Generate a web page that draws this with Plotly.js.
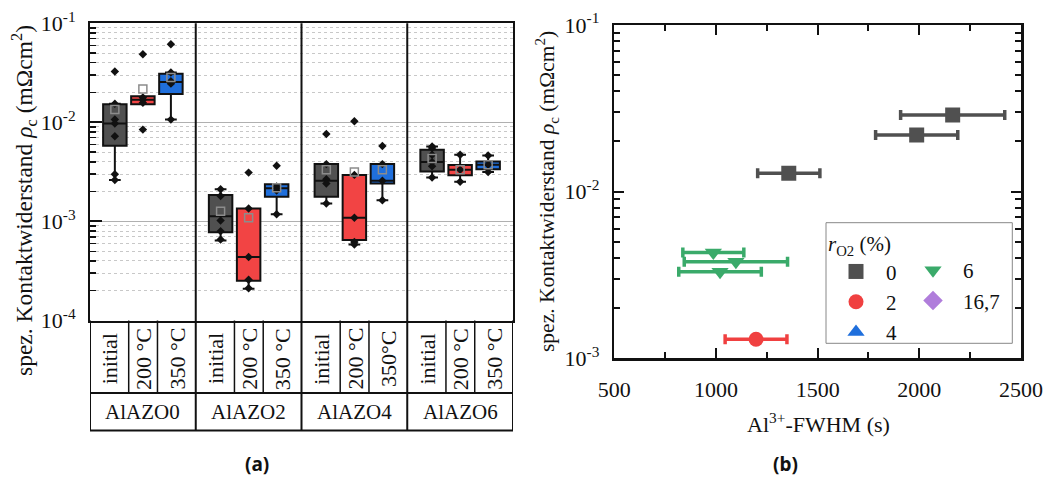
<!DOCTYPE html>
<html>
<head>
<meta charset="utf-8">
<script src="https://cdn.plot.ly/plotly-3.0.1.min.js"></script>
<style>html,body{margin:0;padding:0;background:#fff;}#chart{width:1052px;height:479px;}</style>
</head>
<body>
<div id="chart"></div>
<script>
// ---------- Panel (a) data: box statistics per condition, one entry per group ----------
const groups = ['AlAZO0', 'AlAZO2', 'AlAZO4', 'AlAZO6'];
const conditionNames = ['initial', '200 °C', '350 °C'];
const cellLabels = [
  ['initial', '200 °C', '350 °C'],
  ['initial', '200 °C', '350 °C'],
  ['initial', '200 °C', '350°C'],
  ['initial', '200 °C', '350 °C']
];

const initialQ1 = [0.00581, 0.000779, 0.00178, 0.00319];
const initialMed = [0.00972, 0.00113, 0.00257, 0.00397];
const initialQ3 = [0.0152, 0.00185, 0.00379, 0.00530];
const initialLo = [0.00262, 0.000641, 0.00152, 0.00277];
const initialHi = [0.0154, 0.00211, 0.00379, 0.00571];
const initialMean = [0.0135, 0.00127, 0.00332, 0.00433];
const initialPts = [
  [0.0326, 0.0154, 0.01067, 0.00972, 0.00723, 0.0030, 0.00262],
  [0.00211, 0.00181, 0.00102, 0.000798, 0.000656],
  [0.00764, 0.00379, 0.00267, 0.00241, 0.00152],
  [0.00571, 0.0055, 0.0047, 0.00397, 0.0036, 0.00277]
];

const c200Q1 = [0.0152, 0.000252, 0.00065, 0.00293];
const c200Med = [0.0169, 0.000437, 0.00109, 0.00332];
const c200Q3 = [0.0183, 0.00135, 0.00295, 0.00371];
const c200Lo = [0.0152, 0.000209, 0.000584, 0.00251];
const c200Hi = [0.0183, 0.00135, 0.00295, 0.00471];
const c200Mean = [0.0217, 0.00109, 0.00316, 0.00332];
const c200Pts = [
  [0.0488, 0.0178, 0.0169, 0.0158, 0.00845],
  [0.00311, 0.00135, 0.000437, 0.000258, 0.000212],
  [0.01026, 0.00295, 0.00109, 0.00062, 0.000584],
  [0.00471, 0.00332, 0.00251]
];

const c350Q1 = [0.0193, 0.00177, 0.00241, 0.00337];
const c350Med = [0.0255, 0.00216, 0.00257, 0.00373];
const c350Q3 = [0.0310, 0.00238, 0.00379, 0.00403];
const c350Lo = [0.01066, 0.00118, 0.00164, 0.00316];
const c350Hi = [0.0318, 0.00238, 0.00379, 0.00464];
const c350Mean = [0.0283, 0.00219, 0.00332, 0.00373];
const c350Pts = [
  [0.0616, 0.0318, 0.026, 0.0246, 0.01066],
  [0.00364, 0.00225, 0.00205, 0.00118],
  [0.00577, 0.00379, 0.00257, 0.00164],
  [0.00464, 0.00373, 0.00316]
];

// ---------- Panel (b) data ----------
const fwhm0 = [1358, 1987, 2164];
const fwhm0Err = [153, 202, 256];
const rho0 = [0.0129, 0.0219, 0.0288];
const fwhm2 = [1197];
const fwhm2Err = [152];
const rho2 = [0.0013];
const fwhm6 = [987, 1098, 1020];
const fwhm6Err = [150, 254, 203];
const rho6 = [0.00431, 0.0038, 0.00331];
const legendNames = ['0', '2', '4', '6', '16,7'];

// ---------- styling ----------
const W = 1052, H = 479;
const px = v => v / W;
const py = v => 1 - v / H;
const SERIF = 'Liberation Serif, Times New Roman, serif';
const COLORS = ['#505050', '#f24444', '#1f6fdc'];
const offsets = [-0.265, 0, 0.265];
const boxW = 0.222;

const stats = [
  {q1: initialQ1, med: initialMed, q3: initialQ3, lo: initialLo, hi: initialHi, mean: initialMean, pts: initialPts},
  {q1: c200Q1, med: c200Med, q3: c200Q3, lo: c200Lo, hi: c200Hi, mean: c200Mean, pts: c200Pts},
  {q1: c350Q1, med: c350Med, q3: c350Q3, lo: c350Lo, hi: c350Hi, mean: c350Mean, pts: c350Pts}
];

const traces = [];
stats.forEach((s, ci) => {
  const xs = groups.map((g, gi) => gi + 0.5 + offsets[ci]);
  traces.push({
    type: 'box', name: conditionNames[ci], x: xs,
    q1: s.q1, median: s.med, q3: s.q3, lowerfence: s.lo, upperfence: s.hi,
    width: boxW, whiskerwidth: 0.5, fillcolor: COLORS[ci],
    line: {color: '#111', width: 2}, boxpoints: false,
    xaxis: 'x', yaxis: 'y', showlegend: false, hoverinfo: 'skip'
  });
});
stats.forEach((s, ci) => {
  const px_ = [], py_ = [];
  s.pts.forEach((arr, gi) => arr.forEach(v => { px_.push(gi + 0.5 + offsets[ci]); py_.push(v); }));
  traces.push({
    type: 'scatter', mode: 'markers', x: px_, y: py_,
    marker: {symbol: 'diamond', size: 6.5, color: '#111'},
    xaxis: 'x', yaxis: 'y', showlegend: false, hoverinfo: 'skip'
  });
  traces.push({
    type: 'scatter', mode: 'markers',
    x: groups.map((g, gi) => gi + 0.5 + offsets[ci]), y: s.mean,
    marker: {symbol: 'square-open', size: 8, color: '#8c8c8c', line: {width: 1.5}},
    xaxis: 'x', yaxis: 'y', showlegend: false, hoverinfo: 'skip'
  });
});

function errTrace(name, xs, errs, ys, color, symbol, leg) {
  return {
    type: 'scatter', mode: 'markers', name: name, x: xs, y: ys, legend: leg,
    error_x: {type: 'data', array: errs, visible: true, color: color, thickness: 3.5, width: 5},
    marker: {symbol: symbol, size: 15, color: color},
    xaxis: 'x2', yaxis: 'y2', hoverinfo: 'skip'
  };
}
traces.push(errTrace(legendNames[0], fwhm0, fwhm0Err, rho0, '#505050', 'square', 'legend'));
traces.push(errTrace(legendNames[1], fwhm2, fwhm2Err, rho2, '#f04040', 'circle', 'legend'));
traces.push({type: 'scatter', mode: 'markers', name: legendNames[2], x: [null], y: [null], legend: 'legend',
  marker: {symbol: 'triangle-up', size: 15, color: '#1f6fdc'}, xaxis: 'x2', yaxis: 'y2'});
traces.push(errTrace(legendNames[3], fwhm6, fwhm6Err, rho6, '#3aaa6a', 'triangle-down', 'legend2'));
traces.push({type: 'scatter', mode: 'markers', name: legendNames[4], x: [null], y: [null], legend: 'legend2',
  marker: {symbol: 'diamond', size: 15, color: '#b07ddb'}, xaxis: 'x2', yaxis: 'y2'});

// tick layout
const majorVals = [1e-4, 1e-3, 1e-2, 1e-1];
const majorText = ['10<sup>-4</sup>', '10<sup>-3</sup>', '10<sup>-2</sup>', '10<sup>-1</sup>'];
const minorVals = [];
[-4, -3, -2].forEach(d => { for (let k = 2; k <= 9; k++) minorVals.push(k * Math.pow(10, d)); });

const shapes = [];
const lineS = {color: '#111', width: 2};
[1, 2, 3].forEach(g => shapes.push({type: 'line', xref: 'x', yref: 'paper', x0: g, x1: g, y0: py(430.5), y1: py(23.3), line: lineS}));
shapes.push({type: 'line', xref: 'x', yref: 'paper', x0: 0, x1: 0, y0: py(430.5), y1: py(320.5), line: lineS});
shapes.push({type: 'line', xref: 'x', yref: 'paper', x0: 4, x1: 4, y0: py(430.5), y1: py(320.5), line: lineS});
shapes.push({type: 'line', xref: 'x', yref: 'paper', x0: 0, x1: 4, y0: py(393), y1: py(393), line: lineS});
shapes.push({type: 'line', xref: 'x', yref: 'paper', x0: 0, x1: 4, y0: py(430.5), y1: py(430.5), line: lineS});
const cellEdges = [0, 0.366, 0.638, 1];
groups.forEach((g, gi) => {
  [1, 2].forEach(k => shapes.push({type: 'line', xref: 'x', yref: 'paper', x0: gi + cellEdges[k], x1: gi + cellEdges[k], y0: py(393), y1: py(320.5), line: {color: '#111', width: 1.5}}));
});
// legend frame
shapes.push({type: 'rect', xref: 'paper', yref: 'paper', x0: px(826), x1: px(1012.3), y0: py(343.3), y1: py(222.7),
  line: {color: '#888', width: 1}, fillcolor: 'rgba(255,255,255,1)', layer: 'below'});

const annotations = [];
groups.forEach((g, gi) => {
  annotations.push({xref: 'x', yref: 'paper', x: gi + 0.5, y: py(412), text: g, showarrow: false,
    font: {family: SERIF, size: 21, color: '#111'}, xanchor: 'center', yanchor: 'middle'});
  cellLabels[gi].forEach((lab, ci) => {
    annotations.push({xref: 'x', yref: 'paper', x: gi + (cellEdges[ci] + cellEdges[ci + 1]) / 2, y: py(359), text: lab,
      showarrow: false, textangle: -90, font: {family: SERIF, size: 22, color: '#111'}, xanchor: 'center', yanchor: 'middle'});
  });
});
annotations.push({xref: 'paper', yref: 'paper', x: px(24), y: py(201), text: 'spez. Kontaktwiderstand <i>ρ</i><sub>c</sub> (mΩcm<sup>2</sup>)',
  showarrow: false, textangle: -90, font: {family: SERIF, size: 23.5, color: '#111'}, xanchor: 'center', yanchor: 'middle'});
annotations.push({xref: 'paper', yref: 'paper', x: px(547), y: py(192), text: 'spez. Kontaktwiderstand <i>ρ</i><sub>c</sub> (mΩcm<sup>2</sup>)',
  showarrow: false, textangle: -90, font: {family: SERIF, size: 21.5, color: '#111'}, xanchor: 'center', yanchor: 'middle'});
annotations.push({xref: 'paper', yref: 'paper', x: px(818), y: py(423), text: 'Al<sup>3+</sup>-FWHM (s)',
  showarrow: false, font: {family: SERIF, size: 22, color: '#111'}, xanchor: 'center', yanchor: 'middle'});
annotations.push({xref: 'paper', yref: 'paper', x: px(257), y: py(464), text: '<b>(a)</b>',
  showarrow: false, font: {family: 'Noto Sans, Open Sans, sans-serif', size: 19, color: '#111'}, xanchor: 'center', yanchor: 'middle'});
annotations.push({xref: 'paper', yref: 'paper', x: px(785), y: py(464), text: '<b>(b)</b>',
  showarrow: false, font: {family: 'Noto Sans, Open Sans, sans-serif', size: 19, color: '#111'}, xanchor: 'center', yanchor: 'middle'});

const legFont = {family: SERIF, size: 21, color: '#111'};
const layout = {
  width: W, height: H,
  margin: {l: 0, r: 0, t: 0, b: 0, autoexpand: false},
  paper_bgcolor: '#fff', plot_bgcolor: 'rgba(0,0,0,0)',
  font: {family: SERIF, size: 21, color: '#111'},
  showlegend: true,
  xaxis: {
    domain: [px(90), px(513)], range: [0, 4], showticklabels: false, ticks: '', showgrid: false, zeroline: false,
    showline: true, mirror: true, linecolor: '#111', linewidth: 2, anchor: 'y', fixedrange: true
  },
  yaxis: {
    domain: [py(320.5), py(23.3)], type: 'log', range: [-4, -1], anchor: 'x',
    tickmode: 'array', tickvals: majorVals, ticktext: majorText,
    ticks: 'inside', ticklen: 12, tickwidth: 2, tickcolor: '#111', ticklabelstandoff: 8,
    showline: true, mirror: true, linecolor: '#111', linewidth: 2,
    showgrid: true, gridcolor: '#b0b0b0', gridwidth: 1, zeroline: false,
    minor: {tickmode: 'array', tickvals: minorVals, ticks: 'inside', ticklen: 6, tickwidth: 1.5, tickcolor: '#111',
      showgrid: true, gridcolor: '#c8c8c8', griddash: 'dot', gridwidth: 1},
    tickfont: {family: SERIF, size: 22, color: '#111'}
  },
  xaxis2: {
    domain: [px(614.3), px(1021)], range: [500, 2500], anchor: 'y2', dtick: 500, tick0: 500,
    ticks: 'inside', ticklen: 10, tickwidth: 2, tickcolor: '#111', ticklabelstandoff: 10,
    showline: true, mirror: 'allticks', linecolor: '#111', linewidth: 2.5, showgrid: false, zeroline: false,
    minor: {dtick: 250, tick0: 500, ticks: 'inside', ticklen: 6, tickwidth: 2, tickcolor: '#111', showgrid: false},
    tickfont: {family: SERIF, size: 22, color: '#111'}
  },
  yaxis2: {
    domain: [py(358.3), py(25)], type: 'log', range: [-3, -1], anchor: 'x2',
    tickmode: 'array', tickvals: majorVals, ticktext: majorText,
    ticks: 'inside', ticklen: 10, tickwidth: 2, tickcolor: '#111', ticklabelstandoff: 8,
    showline: true, mirror: 'allticks', linecolor: '#111', linewidth: 2.5, showgrid: false, zeroline: false,
    minor: {tickmode: 'array', tickvals: minorVals, ticks: 'inside', ticklen: 6, tickwidth: 2, tickcolor: '#111', showgrid: false},
    tickfont: {family: SERIF, size: 22, color: '#111'}
  },
  legend: {
    x: px(826), y: py(224), xanchor: 'left', yanchor: 'top', orientation: 'v',
    bgcolor: 'rgba(0,0,0,0)', borderwidth: 0, itemwidth: 50, tracegroupgap: 0,
    font: legFont, title: {text: '<i>r</i><sub>O2</sub> (%)', side: 'top', font: legFont}
  },
  legend2: {
    x: px(903), y: py(250), xanchor: 'left', yanchor: 'top', orientation: 'v',
    bgcolor: 'rgba(0,0,0,0)', borderwidth: 0, itemwidth: 50, tracegroupgap: 0,
    font: legFont
  },
  shapes: shapes,
  annotations: annotations
};

Plotly.newPlot('chart', traces, layout, {staticPlot: true, displayModeBar: false});
</script>
</body>
</html>
